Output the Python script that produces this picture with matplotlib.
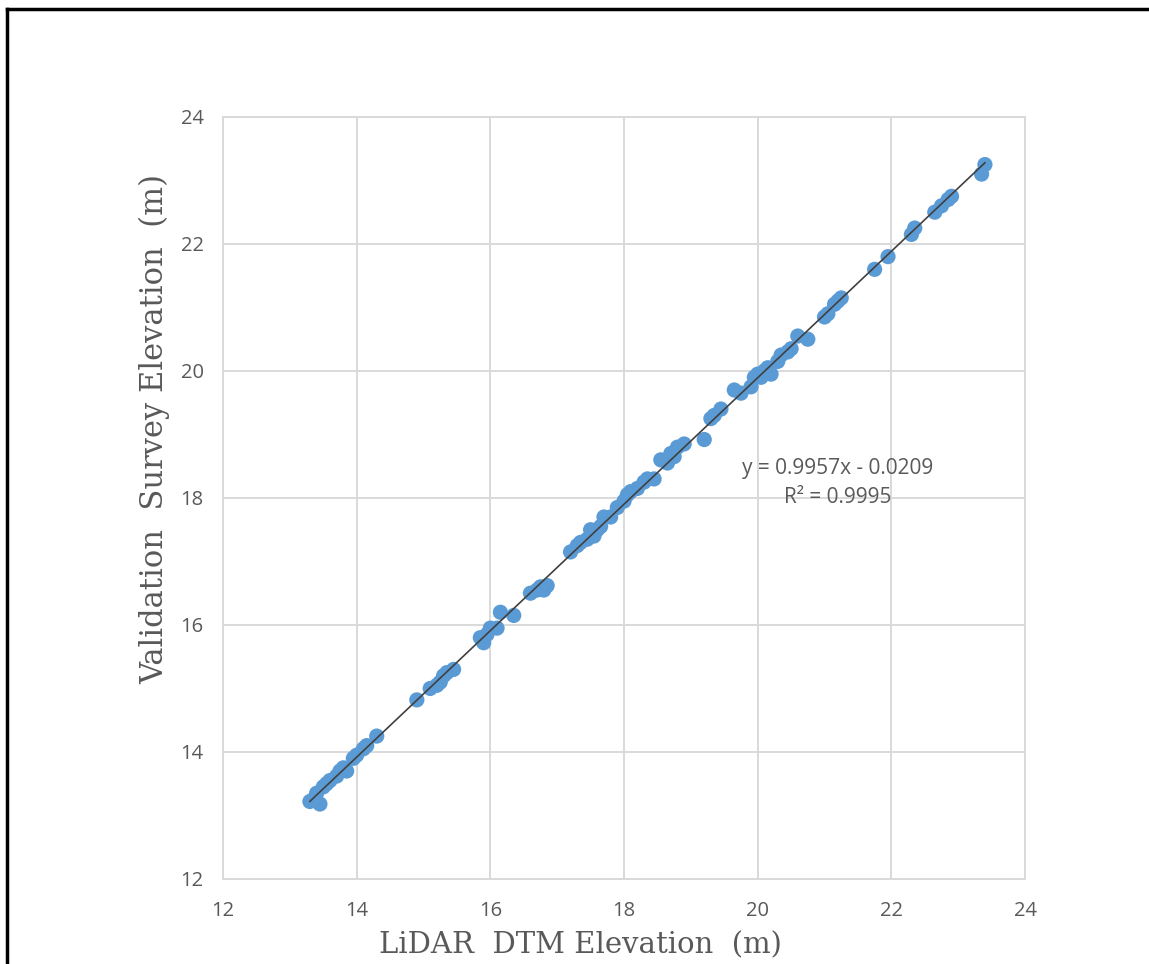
import matplotlib.pyplot as plt
import numpy as np
from matplotlib.lines import Line2D

# LiDAR DTM elevation (x) vs validation survey elevation (y)
lidar = [13.3, 13.35, 13.45, 13.4, 13.5, 13.55, 13.6, 13.7, 13.75, 13.8, 13.85,
         13.95, 14.0, 14.1, 14.15, 14.3,
         14.9, 15.1, 15.2, 15.25, 15.3, 15.35, 15.45,
         15.85, 15.9, 15.95, 16.0, 16.1, 16.15, 16.35,
         16.6, 16.7, 16.75, 16.8, 16.85,
         17.2, 17.3, 17.35, 17.45, 17.5, 17.55, 17.6, 17.65, 17.7, 17.8,
         17.9, 18.0, 18.05, 18.1, 18.2, 18.3, 18.35, 18.45,
         18.55, 18.65, 18.7, 18.75, 18.8, 18.9, 19.2,
         19.3, 19.35, 19.45, 19.65, 19.75, 19.9, 19.95, 20.0, 20.05, 20.1,
         20.15, 20.2, 20.3, 20.35, 20.45, 20.5, 20.6, 20.75,
         21.0, 21.05, 21.15, 21.2, 21.25,
         21.75, 21.95,
         22.3, 22.35, 22.65, 22.75, 22.85, 22.9,
         23.35, 23.4]
survey = [13.22, 13.25, 13.18, 13.35, 13.45, 13.5, 13.55, 13.62, 13.7, 13.75, 13.7,
          13.9, 13.95, 14.05, 14.1, 14.25,
          14.82, 15.0, 15.05, 15.1, 15.2, 15.25, 15.3,
          15.8, 15.72, 15.85, 15.95, 15.95, 16.2, 16.15,
          16.5, 16.55, 16.6, 16.55, 16.62,
          17.15, 17.25, 17.3, 17.35, 17.5, 17.4, 17.5, 17.55, 17.7, 17.7,
          17.85, 17.95, 18.05, 18.1, 18.15, 18.25, 18.3, 18.3,
          18.6, 18.55, 18.7, 18.65, 18.8, 18.85, 18.92,
          19.25, 19.3, 19.4, 19.7, 19.65, 19.75, 19.9, 19.95, 19.9, 20.0,
          20.05, 19.95, 20.15, 20.25, 20.3, 20.35, 20.55, 20.5,
          20.85, 20.9, 21.05, 21.1, 21.15,
          21.6, 21.8,
          22.15, 22.25, 22.5, 22.6, 22.7, 22.75,
          23.1, 23.25]

slope = 0.9957
intercept = -0.0209
ticks = [12, 14, 16, 18, 20, 22, 24]

fig = plt.figure(figsize=(11.49, 9.64), dpi=100)
ax = fig.add_axes([0.1941, 0.0882, 0.698, 0.7905])

ax.scatter(lidar, survey, s=120, color="#5B9BD5", edgecolors="none", zorder=3)

xs = np.array([min(lidar), max(lidar)])
ax.plot(xs, slope * xs + intercept, color="#404040", lw=1.2, zorder=4)

ax.set_xlim(12, 24)
ax.set_ylim(12, 24)
ax.set_xticks(ticks)
ax.set_yticks(ticks)
ax.grid(True, color="#D9D9D9", lw=1.4)
ax.set_axisbelow(True)
for sp in ax.spines.values():
    sp.set_color("#D9D9D9")
    sp.set_linewidth(1.4)
ax.tick_params(length=0, labelsize=14.5, labelcolor="#595959")
ax.tick_params(axis="x", pad=16)
ax.tick_params(axis="y", pad=14)
for lab in ax.get_xticklabels() + ax.get_yticklabels():
    lab.set_family("Open Sans")

ax.set_xlabel("LiDAR  DTM Elevation  (m)", family="DejaVu Serif", fontsize=21,
              color="#595959", va="center")
ax.xaxis.set_label_coords(0.446, -0.087)
ax.set_ylabel("Validation  Survey Elevation  (m)", family="DejaVu Serif", fontsize=22,
              color="#595959", va="center")
ax.yaxis.set_label_coords(-0.085, 0.59)

ax.text(21.2, 18.47, "y = 0.9957x - 0.0209", family="Open Sans", fontsize=15,
        color="#595959", ha="center", va="center")
ax.text(21.2, 18.01, "R² = 0.9995", family="Open Sans", fontsize=15,
        color="#595959", ha="center", va="center")

# black frame along the top and left edge
fig.add_artist(Line2D([0.006, 1.0], [0.9905, 0.9905], color="black", lw=2.5))
fig.add_artist(Line2D([0.006, 0.006], [0.0, 0.9905], color="black", lw=2.5))

fig.savefig("out.png", dpi=100)
